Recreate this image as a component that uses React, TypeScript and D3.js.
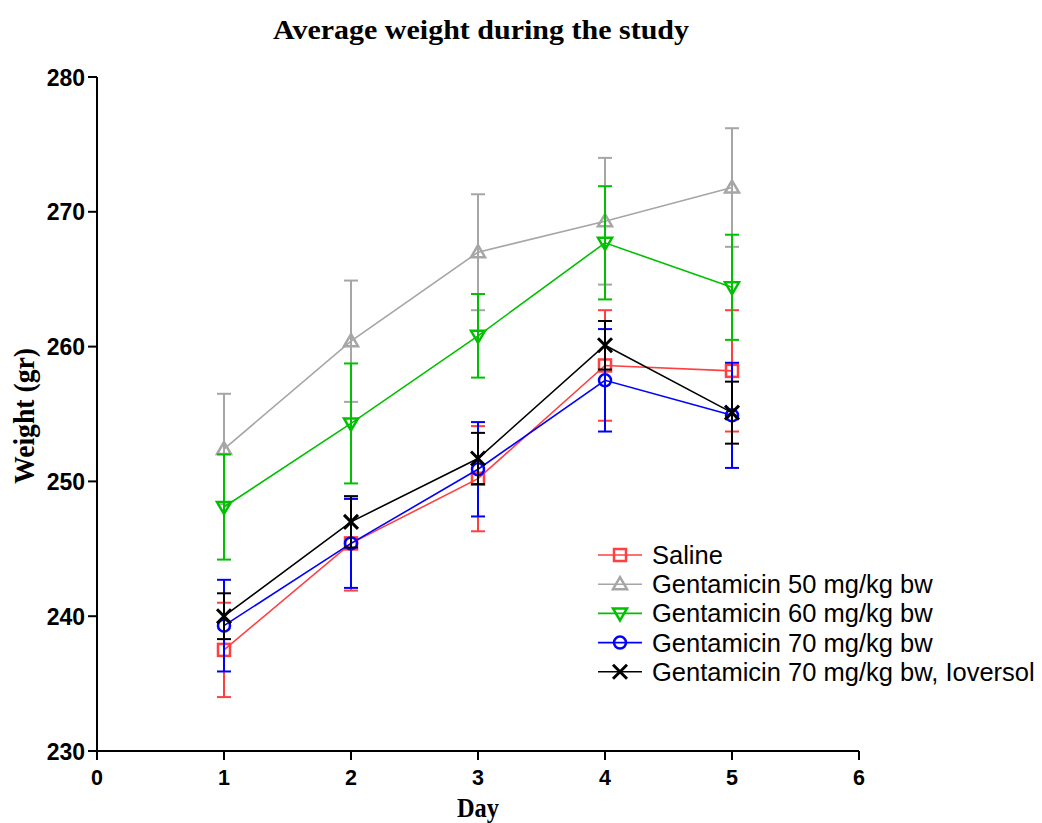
import React from "react";
import * as d3 from "d3";

const days = [1, 2, 3, 4, 5];
const xTicks = [0, 1, 2, 3, 4, 5, 6];
const yTicks = [230, 240, 250, 260, 270, 280];

const seriesNames = [
  "Saline",
  "Gentamicin 50 mg/kg bw",
  "Gentamicin 60 mg/kg bw",
  "Gentamicin 70 mg/kg bw",
  "Gentamicin 70 mg/kg bw, Ioversol",
];
const seriesColors = ["#ff4040", "#a6a6a6", "#00c000", "#0000ff", "#000000"];
const seriesSymbols = ["square", "triangle", "triangleDown", "circle", "cross"];

const salineMean = [237.5, 245.4, 250.2, 258.6, 258.2];
const salineErr = [3.5, 3.5, 3.9, 4.1, 4.5];
const g50Mean = [252.4, 260.4, 267.0, 269.3, 271.8];
const g50Err = [4.1, 4.5, 4.3, 4.7, 4.4];
const g60Mean = [248.1, 254.3, 260.8, 267.7, 264.4];
const g60Err = [3.9, 4.45, 3.1, 4.2, 3.9];
const g70Mean = [239.3, 245.4, 250.9, 257.5, 254.9];
const g70Err = [3.4, 3.3, 3.5, 3.8, 3.9];
const iovMean = [240.0, 247.0, 251.7, 260.1, 255.1];
const iovErr = [1.7, 1.9, 1.9, 1.8, 2.3];

const means = [salineMean, g50Mean, g60Mean, g70Mean, iovMean];
const errs = [salineErr, g50Err, g60Err, g70Err, iovErr];

function Marker({ type, x, y, color }: { type: string; x: number; y: number; color: string }) {
  const sw = 2.5;
  if (type === "square")
    return <rect x={x - 6} y={y - 6} width={12} height={12} fill="none" stroke={color} strokeWidth={sw} />;
  if (type === "circle") return <circle cx={x} cy={y} r={6} fill="none" stroke={color} strokeWidth={sw} />;
  if (type === "triangle")
    return (
      <path d={`M${x},${y - 7} L${x + 7},${y + 5} L${x - 7},${y + 5} Z`} fill="none" stroke={color} strokeWidth={sw} />
    );
  if (type === "triangleDown")
    return (
      <path d={`M${x},${y + 7} L${x + 7},${y - 5} L${x - 7},${y - 5} Z`} fill="none" stroke={color} strokeWidth={sw} />
    );
  return (
    <path d={`M${x - 7},${y - 7} L${x + 7},${y + 7} M${x - 7},${y + 7} L${x + 7},${y - 7}`} stroke={color} strokeWidth={3} />
  );
}

export default function App() {
  const width = 1042;
  const height = 823;
  const x = d3.scaleLinear().domain([0, 6]).range([97, 859]);
  const y = d3.scaleLinear().domain([230, 280]).range([751, 77]);
  const line = d3
    .line<number>()
    .x((_, i) => x(days[i]))
    .y((d) => y(d));

  const legendX = 598;
  const legendY0 = 555;
  const legendDy = 29.2;
  const serif = "Liberation Serif, Times New Roman, serif";
  const sans = "Liberation Sans, Arial, sans-serif";

  return (
    <svg width={width} height={height} style={{ position: "absolute", left: 0, top: 0, background: "#fff" }}>
      <rect width={width} height={height} fill="#fff" />
      <text
        x={481}
        y={39}
        textAnchor="middle"
        fontFamily={serif}
        fontWeight="bold"
        fontSize={27}
        textLength={416}
        lengthAdjust="spacingAndGlyphs"
      >
        Average weight during the study
      </text>
      {/* axes */}
      <line x1={x(0)} x2={x(0)} y1={y(280)} y2={y(230)} stroke="#000" strokeWidth={2} />
      <line x1={x(0)} x2={x(6)} y1={y(230)} y2={y(230)} stroke="#000" strokeWidth={2} />
      {yTicks.map((t) => (
        <g key={"y" + t}>
          <line x1={x(0) - 9} x2={x(0)} y1={y(t)} y2={y(t)} stroke="#000" strokeWidth={2} />
          <text x={x(0) - 12} y={y(t) + 8.5} textAnchor="end" fontFamily={sans} fontWeight="bold" fontSize={23}>
            {t}
          </text>
        </g>
      ))}
      {xTicks.map((t) => (
        <g key={"x" + t}>
          <line x1={x(t)} x2={x(t)} y1={y(230)} y2={y(230) + 9} stroke="#000" strokeWidth={2} />
          <text x={x(t)} y={y(230) + 34} textAnchor="middle" fontFamily={sans} fontWeight="bold" fontSize={21.5}>
            {t}
          </text>
        </g>
      ))}
      <text
        x={478}
        y={817}
        textAnchor="middle"
        fontFamily={serif}
        fontWeight="bold"
        fontSize={27}
        textLength={42}
        lengthAdjust="spacingAndGlyphs"
      >
        Day
      </text>
      <text
        transform={`translate(34,416) rotate(-90)`}
        textAnchor="middle"
        fontFamily={serif}
        fontWeight="bold"
        fontSize={29}
        textLength={136}
        lengthAdjust="spacingAndGlyphs"
      >
        Weight (gr)
      </text>
      {/* series */}
      {means.map((m, si) => (
        <g key={"s" + si}>
          <path d={line(m) || ""} fill="none" stroke={seriesColors[si]} strokeWidth={1.6} />
          {m.map((v, i) => {
            const cx = x(days[i]);
            const top = y(v + errs[si][i]);
            const bot = y(v - errs[si][i]);
            return (
              <g key={i} stroke={seriesColors[si]} strokeWidth={2}>
                <line x1={cx} x2={cx} y1={top} y2={bot} />
                <line x1={cx - 7} x2={cx + 7} y1={top} y2={top} />
                <line x1={cx - 7} x2={cx + 7} y1={bot} y2={bot} />
              </g>
            );
          })}
          {m.map((v, i) => (
            <Marker key={"m" + i} type={seriesSymbols[si]} x={x(days[i])} y={y(v)} color={seriesColors[si]} />
          ))}
        </g>
      ))}
      {/* legend */}
      {seriesNames.map((n, i) => {
        const ly = legendY0 + i * legendDy;
        return (
          <g key={"l" + i}>
            <line x1={legendX} x2={legendX + 44} y1={ly} y2={ly} stroke={seriesColors[i]} strokeWidth={1.6} />
            <Marker type={seriesSymbols[i]} x={legendX + 22} y={ly} color={seriesColors[i]} />
            <text x={legendX + 54} y={ly + 9} fontFamily={sans} fontSize={25.5}>
              {n}
            </text>
          </g>
        );
      })}
    </svg>
  );
}
